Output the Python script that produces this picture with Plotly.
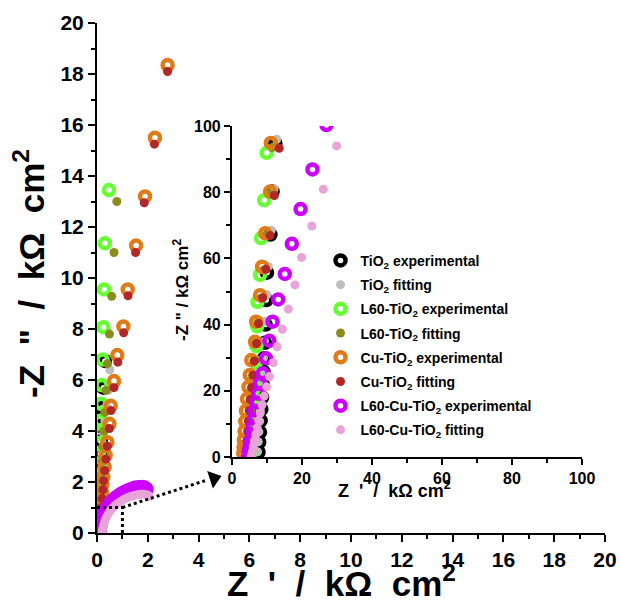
import plotly.graph_objects as go

# ---------------- main plot data (kOhm cm2) ----------------
tio2_exp_x = [0.03, 0.05, 0.06, 0.08, 0.09, 0.11, 0.13, 0.15, 0.16, 0.18, 0.25, 0.31]
tio2_exp_y = [0.1, 0.5, 0.9, 1.4, 1.9, 2.5, 3.1, 3.6, 4.2, 4.9, 5.7, 6.75]
tio2_fit_x = [0.06, 0.08, 0.10, 0.12, 0.14, 0.16, 0.19, 0.22, 0.26, 0.31, 0.38, 0.45, 0.51]
tio2_fit_y = [0.1, 0.5, 0.9, 1.3, 1.8, 2.3, 2.8, 3.3, 3.9, 4.4, 5.0, 5.6, 6.4]
l60_exp_x = [0.02, 0.03, 0.04, 0.05, 0.06, 0.07, 0.08, 0.10, 0.12, 0.14, 0.16, 0.18, 0.22, 0.25, 0.28, 0.31, 0.47]
l60_exp_y = [0.1, 0.6, 1.1, 1.6, 2.1, 2.6, 3.1, 3.5, 3.9, 4.4, 5.07, 5.8, 6.8, 8.07, 9.55, 11.36, 13.45]
l60_fit_x = [0.06, 0.08, 0.11, 0.14, 0.17, 0.20, 0.23, 0.27, 0.31, 0.36, 0.41, 0.49, 0.58, 0.67, 0.78]
l60_fit_y = [0.1, 0.5, 1.0, 1.6, 2.2, 2.8, 3.4, 4.0, 4.73, 5.6, 6.64, 7.8, 9.28, 11.0, 13.0]
cu_exp_x = [0.10, 0.12, 0.14, 0.16, 0.18, 0.20, 0.22, 0.25, 0.30, 0.34, 0.41, 0.49, 0.54, 0.67, 0.80, 1.04, 1.21, 1.54, 1.89, 2.28, 2.78]
cu_exp_y = [0.1, 0.4, 0.7, 1.0, 1.3, 1.6, 1.9, 2.2, 2.59, 3.04, 3.56, 4.28, 4.99, 5.96, 6.98, 8.1, 9.55, 11.27, 13.2, 15.5, 18.35]
cu_fit_x = [0.10, 0.12, 0.14, 0.17, 0.20, 0.23, 0.26, 0.30, 0.35, 0.41, 0.49, 0.55, 0.67, 0.82, 1.05, 1.22, 1.52, 1.86, 2.26, 2.78]
cu_fit_y = [0.05, 0.3, 0.65, 1.0, 1.35, 1.7, 2.05, 2.45, 2.9, 3.4, 4.1, 4.8, 5.7, 6.7, 7.85, 9.3, 11.0, 12.95, 15.25, 18.1]
l60cu_exp_x = [0.10, 0.13, 0.17, 0.22, 0.28, 0.35, 0.43, 0.52, 0.62, 0.73, 0.85, 0.97, 1.10, 1.23, 1.36, 1.49, 1.62, 1.75, 1.87, 1.95]
l60cu_exp_y = [0.05, 0.25, 0.45, 0.62, 0.78, 0.92, 1.05, 1.17, 1.28, 1.38, 1.47, 1.55, 1.62, 1.68, 1.73, 1.77, 1.79, 1.80, 1.78, 1.72]
l60cu_fit_x = [0.20, 0.22, 0.26, 0.31, 0.37, 0.44, 0.52, 0.61, 0.71, 0.82, 0.94, 1.06, 1.19, 1.32, 1.45, 1.58, 1.71, 1.84, 1.96, 2.05]
l60cu_fit_y = [0.0, 0.15, 0.32, 0.48, 0.62, 0.75, 0.87, 0.98, 1.08, 1.17, 1.25, 1.32, 1.38, 1.43, 1.47, 1.50, 1.52, 1.52, 1.50, 1.45]

# ---------------- inset data ----------------
i_tio2_exp_x = [12.4, 11.6, 11.0, 10.0, 9.8, 9.6, 9.4, 9.2, 9.0, 8.8, 8.6, 8.4, 8.2, 8.0, 7.8, 7.6]
i_tio2_exp_y = [94.8, 80.2, 67.2, 55.7, 47.4, 40.0, 34.5, 29.8, 25.8, 22.0, 18.0, 14.5, 11.0, 7.5, 4.5, 1.5]
i_tio2_fit_x = [12.8, 12.0, 11.2, 10.4, 10.0, 9.6, 9.3, 9.0, 8.7, 8.5, 8.3, 8.1, 7.9, 7.7, 7.5, 7.3]
i_tio2_fit_y = [96.0, 81.0, 68.5, 57.5, 49.0, 41.0, 35.0, 30.0, 25.5, 21.5, 17.8, 14.2, 10.8, 7.6, 4.6, 1.6]
i_l60_exp_x = [9.9, 9.2, 8.3, 8.0, 7.3, 7.2, 7.0, 6.8, 6.6, 6.4, 6.2, 6.0, 5.8, 5.6, 5.4, 5.2, 5.0]
i_l60_exp_y = [91.9, 77.6, 66.1, 55.0, 46.9, 39.5, 33.5, 28.5, 24.3, 20.8, 17.3, 14.0, 10.8, 7.8, 5.0, 2.5, 0.5]
i_l60_fit_x = [11.5, 10.8, 9.8, 9.0, 8.3, 7.5, 7.0, 6.5, 6.1, 5.8, 5.5, 5.2, 5.0, 4.8, 4.6, 4.4, 4.3]
i_l60_fit_y = [93.5, 79.5, 67.0, 56.5, 48.0, 40.5, 34.5, 29.2, 24.8, 21.0, 17.5, 14.0, 10.8, 7.8, 5.0, 2.6, 0.8]
i_cu_exp_x = [11.1, 10.9, 9.5, 8.6, 8.0, 6.9, 6.6, 5.5, 5.1, 4.7, 4.3, 4.0, 3.8, 3.6, 3.4, 3.3, 3.2]
i_cu_exp_y = [94.9, 80.2, 67.6, 57.5, 48.9, 40.9, 34.8, 29.3, 24.8, 21.2, 17.6, 14.0, 10.8, 7.8, 5.2, 3.0, 1.2]
i_cu_fit_x = [13.5, 12.1, 10.9, 9.7, 8.8, 7.6, 7.0, 6.4, 6.0, 5.6, 5.2, 4.9, 4.7, 4.5, 4.3, 4.2, 4.1]
i_cu_fit_y = [93.3, 79.0, 66.9, 56.7, 48.1, 40.3, 34.3, 29.0, 24.7, 21.0, 17.4, 14.0, 10.8, 7.8, 5.0, 2.6, 0.8]
i_l60cu_exp_x = [27.0, 23.0, 19.6, 17.1, 15.1, 13.2, 11.6, 10.7, 9.7, 8.8, 8.0, 7.5, 7.0, 6.6, 6.3, 6.0, 5.7, 5.4, 5.1, 4.8, 4.6]
i_l60cu_exp_y = [100.3, 86.9, 74.9, 64.4, 55.3, 47.6, 40.9, 35.1, 29.8, 25.3, 22.3, 19.2, 16.5, 14.0, 11.5, 9.2, 7.0, 5.0, 3.2, 1.6, 0.3]
i_l60cu_fit_x = [29.9, 26.1, 22.8, 19.9, 18.0, 16.1, 14.4, 12.9, 11.8, 10.7, 9.9, 9.2, 8.6, 8.1, 7.6, 7.2, 6.8, 6.4, 6.1, 5.8, 5.5]
i_l60cu_fit_y = [94.0, 80.9, 69.8, 60.3, 52.0, 44.7, 38.6, 33.3, 28.5, 24.3, 21.2, 18.4, 15.8, 13.3, 11.0, 8.8, 6.8, 4.9, 3.2, 1.6, 0.3]

# zoom box and arrow (data coords of the main axes)
box_x = [0, 1, 1]
box_y = [1, 1, 0]
arrow_x = [1.0, 4.25]
arrow_y = [1.0, 2.05]
head_x = [4.6]
head_y = [2.14]

names = ["TiO<sub>2</sub> experimental", "TiO<sub>2</sub> fitting",
         "L60-TiO<sub>2</sub> experimental", "L60-TiO<sub>2</sub> fitting",
         "Cu-TiO<sub>2</sub> experimental", "Cu-TiO<sub>2</sub> fitting",
         "L60-Cu-TiO<sub>2</sub> experimental", "L60-Cu-TiO<sub>2</sub> fitting"]
colors = ["#000000", "#bdbdbd", "#66ff33", "#8c8c1e",
          "#e07b1a", "#b02828", "#cc00ff", "#e8a3d8"]
is_exp = [True, False, True, False, True, False, True, False]

main_sets = [(tio2_exp_x, tio2_exp_y), (tio2_fit_x, tio2_fit_y),
             (l60_exp_x, l60_exp_y), (l60_fit_x, l60_fit_y),
             (cu_exp_x, cu_exp_y), (cu_fit_x, cu_fit_y),
             (l60cu_exp_x, l60cu_exp_y), (l60cu_fit_x, l60cu_fit_y)]
inset_sets = [(i_tio2_exp_x, i_tio2_exp_y), (i_tio2_fit_x, i_tio2_fit_y),
              (i_l60_exp_x, i_l60_exp_y), (i_l60_fit_x, i_l60_fit_y),
              (i_cu_exp_x, i_cu_exp_y), (i_cu_fit_x, i_cu_fit_y),
              (i_l60cu_exp_x, i_l60cu_exp_y), (i_l60cu_fit_x, i_l60cu_fit_y)]

FONT = "Liberation Sans, Arial, sans-serif"


def marker(i):
    if is_exp[i]:
        return dict(symbol="circle-open", size=10, color=colors[i],
                    line=dict(width=4.5, color=colors[i]))
    return dict(symbol="circle", size=9, color=colors[i], line=dict(width=0))


fig = go.Figure()
for i, (xs, ys) in enumerate(main_sets):
    fig.add_trace(go.Scatter(x=xs, y=ys, mode="markers", marker=marker(i),
                             showlegend=False, xaxis="x", yaxis="y"))
for i, (xs, ys) in enumerate(inset_sets):
    fig.add_trace(go.Scatter(x=xs, y=ys, mode="markers", marker=marker(i),
                             name=names[i], legendgroup=str(i), showlegend=True,
                             xaxis="x2", yaxis="y2"))

fig.add_trace(go.Scatter(x=box_x, y=box_y, mode="lines",
                         line=dict(color="black", width=3, dash="dot"),
                         showlegend=False, hoverinfo="skip"))
fig.add_trace(go.Scatter(x=arrow_x, y=arrow_y, mode="lines",
                         line=dict(color="black", width=3, dash="dot"),
                         showlegend=False, hoverinfo="skip"))
fig.add_trace(go.Scatter(x=head_x, y=head_y, mode="markers",
                         marker=dict(symbol="triangle-right", size=16, angle=-18,
                                     color="black"),
                         showlegend=False, hoverinfo="skip", cliponaxis=False))

axis_common = dict(showline=True, linecolor="black", linewidth=2, showgrid=False,
                   zeroline=False, ticks="outside", tickcolor="black", tickwidth=2,
                   mirror=False, automargin=False, ticklabeloverflow="allow")

fig.update_layout(
    width=620, height=611,
    margin=dict(l=97, r=15, t=23, b=78),
    paper_bgcolor="white", plot_bgcolor="white",
    font=dict(family=FONT, color="black"),
    xaxis=dict(**axis_common, range=[0, 20], dtick=2, ticklen=7,
               minor=dict(dtick=1, ticklen=4, ticks="outside", tickcolor="black", tickwidth=2),
               tickfont=dict(size=21, weight="bold")),
    yaxis=dict(**axis_common, range=[0, 20], dtick=2, ticklen=7,
               minor=dict(dtick=1, ticklen=4, ticks="outside", tickcolor="black", tickwidth=2),
               tickfont=dict(size=21, weight="bold")),
    xaxis2=dict(**axis_common, domain=[0.2657, 0.9547], anchor="y2", range=[0, 100],
                dtick=20, ticklen=6,
                minor=dict(dtick=10, ticklen=4, ticks="outside", tickcolor="black", tickwidth=2),
                tickfont=dict(size=16, weight="bold")),
    yaxis2=dict(**axis_common, domain=[0.149, 0.798], anchor="x2", range=[0, 100],
                dtick=20, ticklen=6,
                minor=dict(dtick=10, ticklen=4, ticks="outside", tickcolor="black", tickwidth=2),
                tickfont=dict(size=16, weight="bold")),
    legend=dict(x=0.44, y=0.565, xanchor="left", yanchor="top",
                bgcolor="rgba(0,0,0,0)", borderwidth=0,
                font=dict(size=14, weight="bold", family=FONT),
                itemwidth=30, tracegroupgap=3),
)


# axis titles as paper-positioned annotations (reference pixel -> paper)
def px_x(p):
    return (p - 97) / 508.0


def px_y(p):
    return (533 - p) / 510.0


SP1 = "&nbsp;"
SP2 = "&nbsp;&nbsp;"
main_x_title = "Z" + SP2 + "'" + SP2 + "/" + SP2 + "kΩ" + SP2 + "cm<sup>2</sup>"
main_y_title = '-Z' + SP2 + '"' + SP2 + '/' + SP2 + 'kΩ' + SP2 + 'cm<sup>2</sup>'
inset_x_title = "Z" + SP2 + "'" + SP2 + "/" + SP2 + "kΩ" + SP1 + "cm<sup>2</sup>"
inset_y_title = '-Z' + SP1 + '"' + SP1 + '/' + SP1 + 'kΩ' + SP1 + 'cm<sup>2</sup>'

fig.add_annotation(text=main_x_title, xref="paper", yref="paper",
                   x=px_x(341), y=px_y(581), showarrow=False,
                   font=dict(size=35, weight="bold", family=FONT),
                   xanchor="center", yanchor="middle")
fig.add_annotation(text=main_y_title, xref="paper", yref="paper",
                   x=px_x(29), y=px_y(274), showarrow=False, textangle=-90,
                   font=dict(size=35, weight="bold", family=FONT),
                   xanchor="center", yanchor="middle")
fig.add_annotation(text=inset_x_title, xref="paper", yref="paper",
                   x=px_x(394), y=px_y(489), showarrow=False,
                   font=dict(size=18, weight="bold", family=FONT),
                   xanchor="center", yanchor="middle")
fig.add_annotation(text=inset_y_title, xref="paper", yref="paper",
                   x=px_x(181), y=px_y(290), showarrow=False, textangle=-90,
                   font=dict(size=17, weight="bold", family=FONT),
                   xanchor="center", yanchor="middle")

# remove the browser's default 8 px page margin so the 620x611 figure fills the window
fig.write_html("out.html", config={"displayModeBar": False},
               post_script="document.body.style.margin='0px';")
